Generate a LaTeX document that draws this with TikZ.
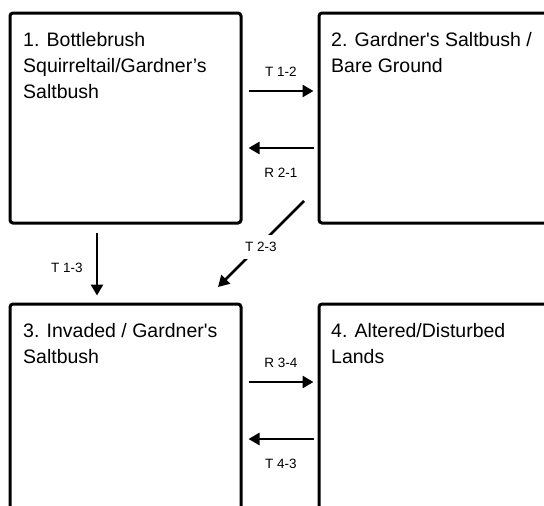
\documentclass[tikz,border=0pt]{standalone}
\usepackage{fontspec}
\setmainfont{Liberation Sans}
\usetikzlibrary{arrows.meta,positioning,calc}
\tikzset{
  statebox/.style={draw, line width=3pt, rounded corners=3pt, minimum width=231pt, minimum height=210pt, inner sep=0pt},
  statetext/.style={anchor=north west, align=left, inner sep=0pt, font=\fontsize{19.5}{26}\selectfont},
  trans/.style={line width=2.6pt, -{Triangle[length=11pt,width=12pt]}},
  translabel/.style={inner sep=1pt, font=\fontsize{13.5}{15}\selectfont}
}
\begin{document}
\begin{tikzpicture}[x=1pt,y=-1pt]
    \useasboundingbox (0,0) rectangle (544,506);
    \clip (0,0) rectangle (544,506);
    % vier Zustaende
    \node[statebox] (b1) at (125.5,118) {};
    \node[statebox] (b2) at (434.5,118) {};
    \node[statebox] (b3) at (125.5,409) {};
    \node[statebox] (b4) at (434.5,409) {};
    \node[statetext] (t1) at (23,32) {1. Bottlebrush\\Squirreltail/Gardner’s\\Saltbush};
    \node[statetext] (t2) at (331,32) {2. Gardner\textquotesingle s Saltbush /\\Bare Ground};
    \node[statetext] (t3) at (23,323) {3. Invaded / Gardner\textquotesingle s\\Saltbush};
    \node[statetext] (t4) at (331,323) {4. Altered/Disturbed\\Lands};
    % Uebergaenge
    \draw[trans, shorten <=6pt, shorten >=4pt] ([yshift=27pt]b1.east) -- ([yshift=27pt]b2.west);
    \draw[trans, shorten <=4pt, shorten >=6pt] ([yshift=-30pt]b2.west) -- ([yshift=-30pt]b1.east);
    \draw[trans, shorten <=6pt, shorten >=4pt] ([yshift=27pt]b3.east) -- ([yshift=27pt]b4.west);
    \draw[trans, shorten <=4pt, shorten >=6pt] ([yshift=-30pt]b4.west) -- ([yshift=-30pt]b3.east);
    \draw[trans, shorten <=8pt, shorten >=7pt] ([xshift=-28.5pt]b1.south) -- ([xshift=-28.5pt]b3.north);
    \coordinate (d23s) at (304,201);
    \coordinate (d23e) at (218,287);
    \draw[trans] (d23s) -- (d23e);
    \node[translabel] (l12) at (281,72) {T 1-2};
    \node[translabel] (l21) at (281,173) {R 2-1};
    \node[translabel, fill=white, inner ysep=7pt] (l23) at (261,247) {T 2-3};
    \node[translabel] (l13) at (67,268) {T 1-3};
    \node[translabel] (l34) at (281,363) {R 3-4};
    \node[translabel] (l43) at (281,464) {T 4-3};
\end{tikzpicture}
\end{document}
